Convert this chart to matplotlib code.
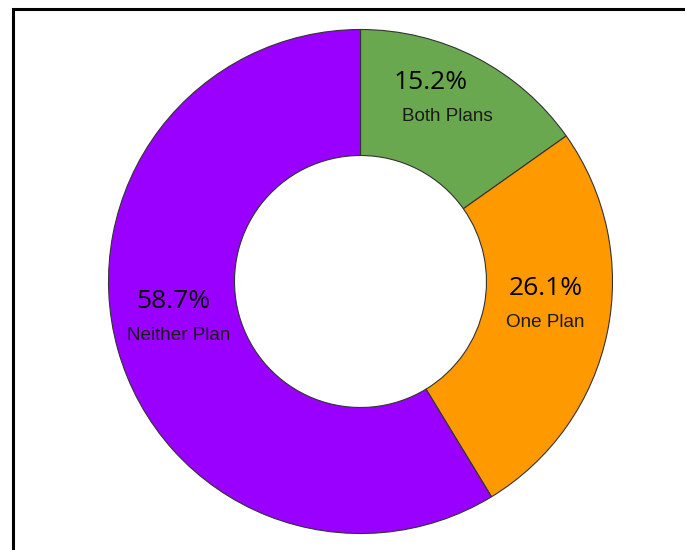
import numpy as np
import matplotlib
matplotlib.use("Agg")
import matplotlib.pyplot as plt
from matplotlib.patches import Rectangle

categories = ["Both Plans", "One Plan", "Neither Plan"]
shares = [15.2, 26.1, 58.7]
colors = ["#6aa84f", "#ff9900", "#9900ff"]
# horizontal nudge (px) of the percentage relative to its category name
pct_dx = [-17, 0, -5]

W, H, DPI = 685, 550, 100
fig = plt.figure(figsize=(W / DPI, H / DPI), dpi=DPI)

# donut centre and outer radius in pixels
cx, cy, R = 360.5, 281.5, 252.0
ax = fig.add_axes([(cx - R) / W, (H - cy - R) / H, 2 * R / W, 2 * R / H])

wedges, _ = ax.pie(shares, colors=colors, startangle=90, counterclock=False,
                   radius=1.0, wedgeprops=dict(width=0.5, edgecolor="#333333",
                                               linewidth=0.8))
ax.set_xlim(-1, 1)
ax.set_ylim(-1, 1)
ax.set_aspect("equal")
ax.axis("off")
for w in wedges:
    w.set_clip_on(False)

label_r = 0.75
px = 1.0 / R
for w, cat, val, dx in zip(wedges, categories, shares, pct_dx):
    mid = np.deg2rad((w.theta1 + w.theta2) / 2)
    x, y = label_r * np.cos(mid), label_r * np.sin(mid) - 3 * px
    ax.text(x, y, cat, ha="center", va="center", fontsize=13.6,
            family="Liberation Sans", color="#1a1a1a")
    ax.text(x + dx * px, y + 34 * px, f"{val:.1f}%", ha="center", va="center",
            fontsize=19, family="Open Sans", color="black")

# partial outer frame (top and left edges)
fig.add_artist(Rectangle((13 / W, -0.1), 1.2, 1.1 - 9 / H,
                         transform=fig.transFigure, fill=False,
                         edgecolor="black", linewidth=2.2, clip_on=False))

fig.savefig("out.png", dpi=DPI)
